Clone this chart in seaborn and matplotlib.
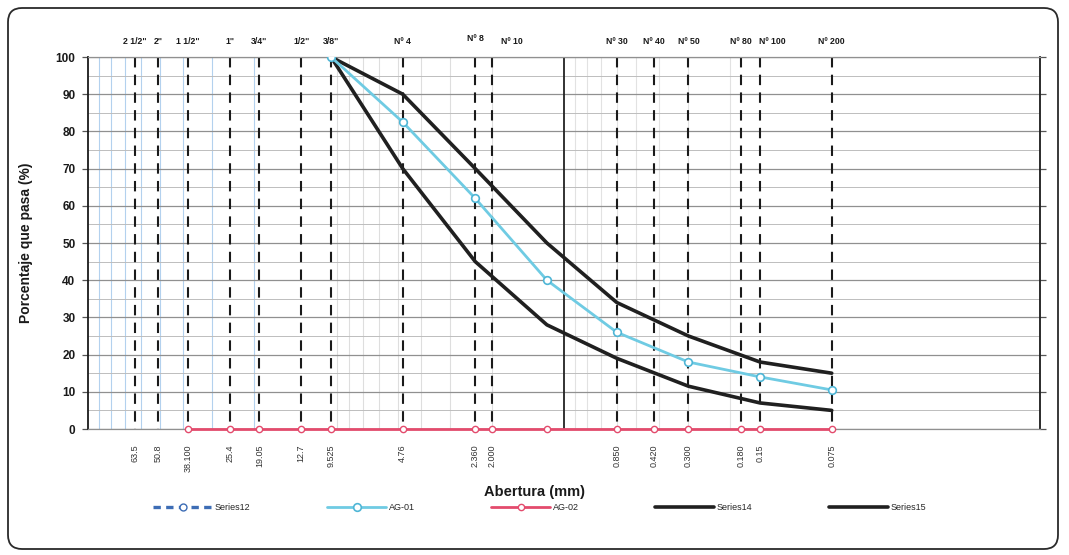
import matplotlib
matplotlib.use("Agg")
import matplotlib.pyplot as plt
import seaborn as sns
from matplotlib.patches import FancyBboxPatch
from matplotlib.transforms import blended_transform_factory, offset_copy

# Sieve openings (mm), sieve names and the opening labels printed under the axis
sieve_mm = [63.5, 50.8, 38.1, 25.4, 19.05, 12.7, 9.525, 4.76, 2.36, 2.0,
            0.6, 0.42, 0.3, 0.18, 0.15, 0.075]
sieve_names = ['2 1/2"', '2"', '1 1/2"', '1"', '3/4"', '1/2"', '3/8"', 'Nº 4',
               'Nº 8', 'Nº 10', 'Nº 30', 'Nº 40', 'Nº 50', 'Nº 80', 'Nº 100', 'Nº 200']
opening_labels = ['63.5', '50.8', '38.100', '25.4', '19.05', '12.7', '9.525', '4.76',
                  '2.360', '2.000', '0.850', '0.420', '0.300', '0.180', '0.15', '0.075']

# Grading curves: percent passing per sieve opening
curve_mm = [9.525, 4.76, 2.36, 1.18, 0.6, 0.3, 0.15, 0.075]
ag01_pass = [100, 82.5, 62, 40, 26, 18, 14, 10.5]
series14_pass = [100, 90, 70, 50, 34, 25, 18, 15]
series15_pass = [100, 70, 45, 28, 19, 11.5, 7, 5]

ag02_mm = [38.1, 25.4, 19.05, 12.7, 9.525, 4.76, 2.36, 2.0, 1.18,
           0.6, 0.42, 0.3, 0.18, 0.15, 0.075]
ag02_pass = [0, 0, 0, 0, 0, 0, 0, 0, 0, 0, 0, 0, 0, 0, 0]

sns.set_theme(style="white")
plt.rcParams['font.family'] = ['Liberation Sans', 'DejaVu Sans']

fig = plt.figure(figsize=(10.69, 5.55), dpi=100)
ax = fig.add_axes([88 / 1069, 1 - 429 / 555, 952 / 1069, 372 / 555])

ax.set_xscale('log')
ax.set_xlim(100, 0.01)
ax.set_ylim(0, 100)

# horizontal grid every 5 %
ax.set_yticks(range(0, 101, 10))
ax.set_yticks(range(5, 100, 10), minor=True)
ax.grid(which='major', axis='y', color='#909090', lw=0.9, zorder=0)
ax.grid(which='minor', axis='y', color='#bdbdbd', lw=0.7, zorder=0)
ax.grid(which='both', axis='x', visible=False)

# log minor grid (light blue in the coarse decade, grey below)
for decade, col in [(10, '#b3d1ee'), (1, '#dedede'), (0.1, '#e2e2e2')]:
    for k in range(2, 10):
        v = k * decade
        if v >= 0.075:
            ax.axvline(v, color=col, lw=0.8, zorder=0.5)
ax.axvline(1.0, color='#222222', lw=1.3, zorder=1)

# sieve reference lines, dashed from the top down
ax.vlines(sieve_mm, 100, 0, colors='#1a1a1a', lw=1.5,
          linestyles=[(0, (5, 3.5))], zorder=1.5)

# series
ax.plot([], [], color='#3d6db5', lw=2.4, ls=(0, (2.2, 1.6)),
        marker='o', markerfacecolor='white', markeredgecolor='#3d6db5',
        markersize=5, label='Series12')
sns.lineplot(x=curve_mm, y=ag01_pass, ax=ax, color='#6fcbe3', lw=2.0,
             marker='o', markerfacecolor='white', markeredgecolor='#4fb6d6',
             markeredgewidth=1.2, markersize=5.5, label='AG-01', zorder=4)
sns.lineplot(x=ag02_mm, y=ag02_pass, ax=ax, color='#e34b6d', lw=2.0,
             marker='o', markerfacecolor='white', markeredgecolor='#e34b6d',
             markeredgewidth=1.0, markersize=4.5, label='AG-02', zorder=5,
             clip_on=False)
sns.lineplot(x=curve_mm, y=series14_pass, ax=ax, color='#202020', lw=2.6,
             label='Series14', zorder=3)
sns.lineplot(x=curve_mm, y=series15_pass, ax=ax, color='#202020', lw=2.6,
             label='Series15', zorder=3)

# axes styling
for side in ['left', 'right']:
    ax.spines[side].set_color('#1a1a1a')
    ax.spines[side].set_linewidth(1.3)
ax.spines['top'].set_color('#909090')
ax.spines['top'].set_linewidth(0.9)
ax.spines['bottom'].set_color('#909090')
ax.spines['bottom'].set_linewidth(0.9)

ax.set_xticks(sieve_mm)
ax.set_xticklabels(opening_labels, rotation=90, fontsize=6.5, color='#333333')
ax.xaxis.set_minor_locator(matplotlib.ticker.NullLocator())
ax.tick_params(axis='x', which='both', length=0, pad=11)
ax.tick_params(axis='y', which='major', left=True, right=True, direction='out',
               length=4, width=0.9, color='#555555', labelsize=8.5, pad=5)
ax.tick_params(axis='y', which='minor', left=False, right=False)
for t in ax.get_yticklabels():
    t.set_fontweight('bold')
    t.set_color('#1a1a1a')

ax.set_ylabel('Porcentaje que pasa (%)', fontsize=10, fontweight='bold', color='#1a1a1a')
ax.yaxis.set_label_coords(-0.058, 0.5)
ax.set_xlabel('Abertura (mm)', fontsize=10.5, fontweight='bold', color='#1a1a1a')
ax.xaxis.set_label_coords((534.5 - 88) / 952, -0.15)

# sieve names above the plot
trans = blended_transform_factory(ax.transData, ax.transAxes)
shift = {'Nº 10': (14, 0), 'Nº 100': (9, 0), 'Nº 8': (0, 2)}
for s, name in zip(sieve_mm, sieve_names):
    dx, dy = shift.get(name, (0, 0))
    tr = offset_copy(trans, fig=fig, x=dx, y=dy, units='points')
    ax.text(s, 1.043, name, transform=tr, ha='center', va='center',
            fontsize=6.3, fontweight='bold', color='#1a1a1a')

# legend below the x label
handles, labels = ax.get_legend_handles_labels()
if ax.get_legend() is not None:
    ax.get_legend().remove()
fig.legend(handles, labels, loc='center', bbox_to_anchor=(0.505, 1 - 508 / 555),
           ncol=5, frameon=False, fontsize=6.5, handlelength=6.5,
           columnspacing=8.5, handletextpad=0.3)

# page frame
frame = FancyBboxPatch((0.08, 0.06), 10.50, 5.41,
                       boxstyle="round,pad=0,rounding_size=0.14",
                       transform=fig.dpi_scale_trans, fill=False,
                       edgecolor='#2a2a2a', lw=1.3)
fig.patches.append(frame)

fig.savefig('out.png', dpi=100)
